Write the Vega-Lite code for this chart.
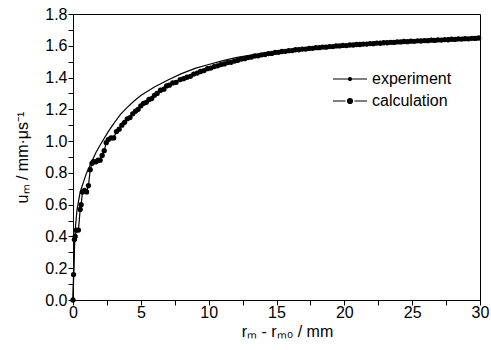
{
  "$schema": "https://vega.github.io/schema/vega-lite/v6.json",
  "width": 407,
  "height": 286,
  "autosize": "none",
  "padding": {"left": 73, "top": 14, "right": 11, "bottom": 50},
  "config": {
    "view": {"stroke": "black", "strokeWidth": 1},
    "font": "Liberation Sans",
    "axis": {"domainColor": "black", "tickColor": "black", "labelColor": "black", "titleColor": "black", "grid": false, "labelFontSize": 16, "titleFontSize": 16, "titleFontWeight": "normal", "labelOverlap": false, "labelFlush": false, "tickSize": 5, "ticks": true}
  },
  "data": {"values": [
    {"x": 0, "u": 0, "series": "experiment"},
    {"x": 0.05, "u": 0.15, "series": "experiment"},
    {"x": 0.1, "u": 0.3, "series": "experiment"},
    {"x": 0.16, "u": 0.44, "series": "experiment"},
    {"x": 0.3, "u": 0.57, "series": "experiment"},
    {"x": 0.53, "u": 0.68, "series": "experiment"},
    {"x": 0.8, "u": 0.75, "series": "experiment"},
    {"x": 1.0, "u": 0.8, "series": "experiment"},
    {"x": 1.38, "u": 0.87, "series": "experiment"},
    {"x": 1.7, "u": 0.93, "series": "experiment"},
    {"x": 2.1, "u": 0.99, "series": "experiment"},
    {"x": 2.6, "u": 1.06, "series": "experiment"},
    {"x": 3.0, "u": 1.11, "series": "experiment"},
    {"x": 3.5, "u": 1.168, "series": "experiment"},
    {"x": 4.0, "u": 1.212, "series": "experiment"},
    {"x": 4.5, "u": 1.252, "series": "experiment"},
    {"x": 5.0, "u": 1.287, "series": "experiment"},
    {"x": 6.0, "u": 1.34, "series": "experiment"},
    {"x": 7.0, "u": 1.385, "series": "experiment"},
    {"x": 8.0, "u": 1.425, "series": "experiment"},
    {"x": 9.0, "u": 1.458, "series": "experiment"},
    {"x": 10.0, "u": 1.482, "series": "experiment"},
    {"x": 11.0, "u": 1.505, "series": "experiment"},
    {"x": 12.0, "u": 1.525, "series": "experiment"},
    {"x": 13.0, "u": 1.54, "series": "experiment"},
    {"x": 14.0, "u": 1.552, "series": "experiment"},
    {"x": 15.0, "u": 1.562, "series": "experiment"},
    {"x": 16.0, "u": 1.57, "series": "experiment"},
    {"x": 17.0, "u": 1.578, "series": "experiment"},
    {"x": 18.0, "u": 1.585, "series": "experiment"},
    {"x": 19.0, "u": 1.591, "series": "experiment"},
    {"x": 20.0, "u": 1.597, "series": "experiment"},
    {"x": 21.0, "u": 1.603, "series": "experiment"},
    {"x": 22.0, "u": 1.608, "series": "experiment"},
    {"x": 23.0, "u": 1.613, "series": "experiment"},
    {"x": 24.0, "u": 1.618, "series": "experiment"},
    {"x": 25.0, "u": 1.623, "series": "experiment"},
    {"x": 26.0, "u": 1.628, "series": "experiment"},
    {"x": 27.0, "u": 1.633, "series": "experiment"},
    {"x": 28.0, "u": 1.638, "series": "experiment"},
    {"x": 29.0, "u": 1.644, "series": "experiment"},
    {"x": 30.0, "u": 1.65, "series": "experiment"},
    {"x": 0, "u": 0.0, "series": "calculation"},
    {"x": 0.04, "u": 0.16, "series": "calculation"},
    {"x": 0.1, "u": 0.38, "series": "calculation"},
    {"x": 0.16, "u": 0.4, "series": "calculation"},
    {"x": 0.25, "u": 0.44, "series": "calculation"},
    {"x": 0.4, "u": 0.44, "series": "calculation"},
    {"x": 0.53, "u": 0.57, "series": "calculation"},
    {"x": 0.6, "u": 0.6, "series": "calculation"},
    {"x": 0.7, "u": 0.68, "series": "calculation"},
    {"x": 0.85, "u": 0.69, "series": "calculation"},
    {"x": 1.0, "u": 0.68, "series": "calculation"},
    {"x": 1.14, "u": 0.72, "series": "calculation"},
    {"x": 1.27, "u": 0.82, "series": "calculation"},
    {"x": 1.4, "u": 0.86, "series": "calculation"},
    {"x": 1.5, "u": 0.87, "series": "calculation"},
    {"x": 1.7, "u": 0.87, "series": "calculation"},
    {"x": 1.85, "u": 0.88, "series": "calculation"},
    {"x": 2.0, "u": 0.88, "series": "calculation"},
    {"x": 2.15, "u": 0.91, "series": "calculation"},
    {"x": 2.3, "u": 0.94, "series": "calculation"},
    {"x": 2.45, "u": 0.99, "series": "calculation"},
    {"x": 2.6, "u": 1.01, "series": "calculation"},
    {"x": 2.8, "u": 1.02, "series": "calculation"},
    {"x": 3.0, "u": 1.02, "series": "calculation"},
    {"x": 3.2, "u": 1.06, "series": "calculation"},
    {"x": 3.4, "u": 1.075, "series": "calculation"},
    {"x": 3.6, "u": 1.1, "series": "calculation"},
    {"x": 3.8, "u": 1.118, "series": "calculation"},
    {"x": 4.0, "u": 1.14, "series": "calculation"},
    {"x": 4.2, "u": 1.148, "series": "calculation"},
    {"x": 4.4, "u": 1.172, "series": "calculation"},
    {"x": 4.6, "u": 1.188, "series": "calculation"},
    {"x": 4.8, "u": 1.2, "series": "calculation"},
    {"x": 5.0, "u": 1.222, "series": "calculation"},
    {"x": 5.2, "u": 1.238, "series": "calculation"},
    {"x": 5.4, "u": 1.244, "series": "calculation"},
    {"x": 5.6, "u": 1.262, "series": "calculation"},
    {"x": 5.8, "u": 1.268, "series": "calculation"},
    {"x": 6.0, "u": 1.288, "series": "calculation"},
    {"x": 6.2, "u": 1.3, "series": "calculation"},
    {"x": 6.45, "u": 1.32, "series": "calculation"},
    {"x": 6.7, "u": 1.327, "series": "calculation"},
    {"x": 6.9, "u": 1.347, "series": "calculation"},
    {"x": 7.1, "u": 1.352, "series": "calculation"},
    {"x": 7.35, "u": 1.366, "series": "calculation"},
    {"x": 7.6, "u": 1.37, "series": "calculation"},
    {"x": 7.9, "u": 1.387, "series": "calculation"},
    {"x": 8.15, "u": 1.393, "series": "calculation"},
    {"x": 8.4, "u": 1.402, "series": "calculation"},
    {"x": 8.65, "u": 1.408, "series": "calculation"},
    {"x": 8.9, "u": 1.422, "series": "calculation"},
    {"x": 9.15, "u": 1.428, "series": "calculation"},
    {"x": 9.4, "u": 1.438, "series": "calculation"},
    {"x": 9.65, "u": 1.444, "series": "calculation"},
    {"x": 9.9, "u": 1.456, "series": "calculation"},
    {"x": 10.15, "u": 1.46, "series": "calculation"},
    {"x": 10.4, "u": 1.469, "series": "calculation"},
    {"x": 10.65, "u": 1.474, "series": "calculation"},
    {"x": 10.9, "u": 1.482, "series": "calculation"},
    {"x": 11.15, "u": 1.486, "series": "calculation"},
    {"x": 11.4, "u": 1.494, "series": "calculation"},
    {"x": 11.65, "u": 1.496, "series": "calculation"},
    {"x": 11.9, "u": 1.504, "series": "calculation"},
    {"x": 12.15, "u": 1.509, "series": "calculation"},
    {"x": 12.4, "u": 1.516, "series": "calculation"},
    {"x": 12.65, "u": 1.519, "series": "calculation"},
    {"x": 12.9, "u": 1.526, "series": "calculation"},
    {"x": 13.15, "u": 1.529, "series": "calculation"},
    {"x": 13.4, "u": 1.536, "series": "calculation"},
    {"x": 13.65, "u": 1.537, "series": "calculation"},
    {"x": 13.9, "u": 1.543, "series": "calculation"},
    {"x": 14.15, "u": 1.545, "series": "calculation"},
    {"x": 14.4, "u": 1.551, "series": "calculation"},
    {"x": 14.65, "u": 1.552, "series": "calculation"},
    {"x": 14.9, "u": 1.558, "series": "calculation"},
    {"x": 15.15, "u": 1.559, "series": "calculation"},
    {"x": 15.4, "u": 1.564, "series": "calculation"},
    {"x": 15.65, "u": 1.565, "series": "calculation"},
    {"x": 15.9, "u": 1.569, "series": "calculation"},
    {"x": 16.15, "u": 1.57, "series": "calculation"},
    {"x": 16.4, "u": 1.575, "series": "calculation"},
    {"x": 16.65, "u": 1.575, "series": "calculation"},
    {"x": 16.9, "u": 1.579, "series": "calculation"},
    {"x": 17.15, "u": 1.579, "series": "calculation"},
    {"x": 17.4, "u": 1.583, "series": "calculation"},
    {"x": 17.65, "u": 1.584, "series": "calculation"},
    {"x": 17.9, "u": 1.588, "series": "calculation"},
    {"x": 18.15, "u": 1.588, "series": "calculation"},
    {"x": 18.4, "u": 1.592, "series": "calculation"},
    {"x": 18.65, "u": 1.591, "series": "calculation"},
    {"x": 18.9, "u": 1.595, "series": "calculation"},
    {"x": 19.15, "u": 1.595, "series": "calculation"},
    {"x": 19.4, "u": 1.599, "series": "calculation"},
    {"x": 19.65, "u": 1.599, "series": "calculation"},
    {"x": 19.9, "u": 1.602, "series": "calculation"},
    {"x": 20.15, "u": 1.601, "series": "calculation"},
    {"x": 20.4, "u": 1.605, "series": "calculation"},
    {"x": 20.65, "u": 1.605, "series": "calculation"},
    {"x": 20.9, "u": 1.608, "series": "calculation"},
    {"x": 21.15, "u": 1.608, "series": "calculation"},
    {"x": 21.4, "u": 1.611, "series": "calculation"},
    {"x": 21.65, "u": 1.611, "series": "calculation"},
    {"x": 21.9, "u": 1.614, "series": "calculation"},
    {"x": 22.15, "u": 1.613, "series": "calculation"},
    {"x": 22.4, "u": 1.617, "series": "calculation"},
    {"x": 22.65, "u": 1.616, "series": "calculation"},
    {"x": 22.9, "u": 1.619, "series": "calculation"},
    {"x": 23.15, "u": 1.619, "series": "calculation"},
    {"x": 23.4, "u": 1.622, "series": "calculation"},
    {"x": 23.65, "u": 1.621, "series": "calculation"},
    {"x": 23.9, "u": 1.624, "series": "calculation"},
    {"x": 24.15, "u": 1.624, "series": "calculation"},
    {"x": 24.4, "u": 1.627, "series": "calculation"},
    {"x": 24.65, "u": 1.626, "series": "calculation"},
    {"x": 24.9, "u": 1.629, "series": "calculation"},
    {"x": 25.15, "u": 1.628, "series": "calculation"},
    {"x": 25.4, "u": 1.631, "series": "calculation"},
    {"x": 25.65, "u": 1.63, "series": "calculation"},
    {"x": 25.9, "u": 1.633, "series": "calculation"},
    {"x": 26.15, "u": 1.632, "series": "calculation"},
    {"x": 26.4, "u": 1.635, "series": "calculation"},
    {"x": 26.65, "u": 1.634, "series": "calculation"},
    {"x": 26.9, "u": 1.637, "series": "calculation"},
    {"x": 27.15, "u": 1.636, "series": "calculation"},
    {"x": 27.4, "u": 1.639, "series": "calculation"},
    {"x": 27.65, "u": 1.638, "series": "calculation"},
    {"x": 27.9, "u": 1.641, "series": "calculation"},
    {"x": 28.15, "u": 1.64, "series": "calculation"},
    {"x": 28.4, "u": 1.643, "series": "calculation"},
    {"x": 28.65, "u": 1.642, "series": "calculation"},
    {"x": 28.9, "u": 1.645, "series": "calculation"},
    {"x": 29.15, "u": 1.644, "series": "calculation"},
    {"x": 29.4, "u": 1.647, "series": "calculation"},
    {"x": 29.65, "u": 1.646, "series": "calculation"},
    {"x": 29.9, "u": 1.649, "series": "calculation"}
  ]},
  "encoding": {
    "x": {
      "field": "x", "type": "quantitative",
      "scale": {"domain": [0, 30], "nice": false, "zero": false},
      "axis": {
        "title": "rₘ - rₘ₀ / mm",
        "titleX": 214,
        "values": [0, 2.5, 5, 7.5, 10, 12.5, 15, 17.5, 20, 22.5, 25, 27.5, 30],
        "labelExpr": "datum.value % 5 === 0 ? format(datum.value, 'd') : ''",
        "labelPadding": -1,
        "titlePadding": 3,
        "encode": {"ticks": {"update": {"y2": {"signal": "datum.value % 5 === 0 ? -5 : -3"}}}}
      }
    },
    "y": {
      "field": "u", "type": "quantitative",
      "scale": {"domain": [0, 1.8], "nice": false},
      "axis": {
        "title": "uₘ / mm·μs⁻¹",
        "values": [0, 0.1, 0.2, 0.3, 0.4, 0.5, 0.6, 0.7, 0.8, 0.9, 1.0, 1.1, 1.2, 1.3, 1.4, 1.5, 1.6, 1.7, 1.8],
        "labelExpr": "abs(datum.value * 5 - round(datum.value * 5)) < 0.001 ? format(datum.value, '.1f') : ''",
        "labelPadding": 1,
        "titlePadding": 14,
        "encode": {"ticks": {"update": {"x2": {"signal": "abs(datum.value * 5 - round(datum.value * 5)) < 0.001 ? 5 : 3"}}}}
      }
    }
  },
  "layer": [
    {
      "mark": {"type": "line", "strokeWidth": 1.2},
      "encoding": {
        "color": {
          "field": "series", "type": "nominal",
          "scale": {"domain": ["experiment", "calculation"], "range": ["black", "black"]},
          "legend": {
            "orient": "none", "legendX": 269, "legendY": 57, "title": null, "padding": 0,
            "symbolSize": 100, "symbolStrokeWidth": 1.2, "labelFontSize": 16, "labelOffset": 14, "rowPadding": 6,
            "labelColor": "black",
            "encode": {"symbols": {"update": {
              "shape": {"signal": "datum.value === 'calculation' ? 'M-3.4,0H-0.9M0.9,0H3.4M-0.5,0A0.5,0.5 0 1,0 0.5,0A0.5,0.5 0 1,0 -0.5,0Z' : 'M-3.4,0H3.4M-0.3,0A0.3,0.3 0 1,0 0.3,0A0.3,0.3 0 1,0 -0.3,0Z'"},
              "fill": {"value": "black"},
              "stroke": {"value": "black"},
              "strokeWidth": {"value": 1.2},
              "opacity": {"value": 1}
            }}}
          }
        }
      }
    },
    {
      "transform": [{"filter": "datum.series === 'calculation'"}],
      "mark": {"type": "point", "filled": true, "color": "black", "size": 28, "opacity": 1}
    }
  ]
}
